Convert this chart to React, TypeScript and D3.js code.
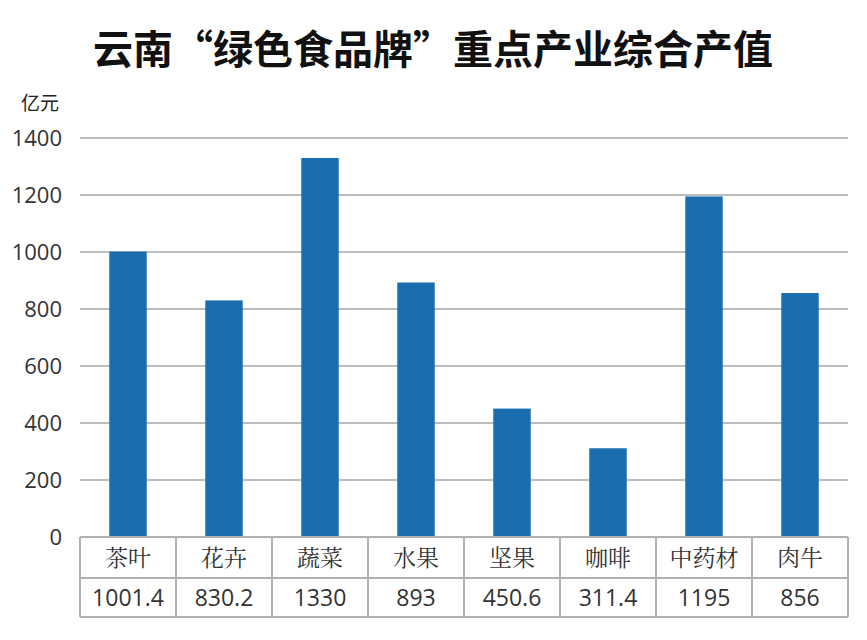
import React from "react";
import * as d3 from "d3";

const title = "云南“绿色食品牌”重点产业综合产值";
const unitLabel = "亿元";
const categories = ["茶叶", "花卉", "蔬菜", "水果", "坚果", "咖啡", "中药材", "肉牛"];
const values = [1001.4, 830.2, 1330, 893, 450.6, 311.4, 1195, 856];
const valueLabels = ["1001.4", "830.2", "1330", "893", "450.6", "311.4", "1195", "856"];
const yTicks = [0, 200, 400, 600, 800, 1000, 1200, 1400];

const W = 867;
const H = 640;
const left = 80;
const right = 848;
const top = 138;
const bottom = 537;
const rowMid = 578;
const rowBottom = 617;

export default function App() {
  const x = d3.scaleBand<string>().domain(categories).range([left, right]).paddingInner(0.61).paddingOuter(0.305);
  const y = d3.scaleLinear().domain([0, 1400]).range([bottom, top]);
  const band = (right - left) / categories.length;
  const sans = "'Open Sans', 'Liberation Sans', sans-serif";
  const cjkSerif = "'Noto Serif CJK SC', 'Noto Sans CJK SC', serif";
  return (
    <svg width={W} height={H} viewBox={`0 0 ${W} ${H}`} style={{ position: "absolute", left: 0, top: 0, background: "#fff" }}>
      <rect width={W} height={H} fill="#fff" />
      <text x={433} y={64} textAnchor="middle" fontFamily="'Noto Sans CJK SC', sans-serif" fontWeight={700} fontSize={40} fill="#111">
        {title}
      </text>
      <text x={40} y={110} textAnchor="middle" fontFamily="'Noto Sans CJK SC', sans-serif" fontSize={19} fill="#222">
        {unitLabel}
      </text>
      {yTicks.map((t) => (
        <g key={t}>
          {t > 0 && <line x1={left} x2={right} y1={y(t)} y2={y(t)} stroke="#bdbdbd" strokeWidth={2} />}
          <text x={62} y={y(t)} dy="0.36em" textAnchor="end" fontFamily={sans} fontSize={22} fill="#333">
            {t}
          </text>
        </g>
      ))}
      {categories.map((c, i) => (
        <rect key={c} x={x(c)} y={y(values[i])} width={x.bandwidth()} height={bottom - y(values[i])} fill="#1a6eb0" />
      ))}
      <g stroke="#b0b0b0" strokeWidth={2} fill="none">
        <line x1={left} x2={right} y1={bottom} y2={bottom} />
        <line x1={left} x2={right} y1={rowMid} y2={rowMid} />
        <line x1={left} x2={right} y1={rowBottom} y2={rowBottom} />
        {d3.range(categories.length + 1).map((i) => (
          <line key={i} x1={left + i * band} x2={left + i * band} y1={bottom} y2={rowBottom} />
        ))}
      </g>
      {categories.map((c, i) => (
        <g key={c + "t"}>
          <text x={x(c)! + x.bandwidth() / 2} y={(bottom + rowMid) / 2} dy="0.36em" textAnchor="middle" fontFamily={cjkSerif} fontSize={23} fill="#333">
            {c}
          </text>
          <text x={x(c)! + x.bandwidth() / 2} y={(rowMid + rowBottom) / 2} dy="0.36em" textAnchor="middle" fontFamily={sans} fontSize={23} fill="#333">
            {valueLabels[i]}
          </text>
        </g>
      ))}
    </svg>
  );
}
